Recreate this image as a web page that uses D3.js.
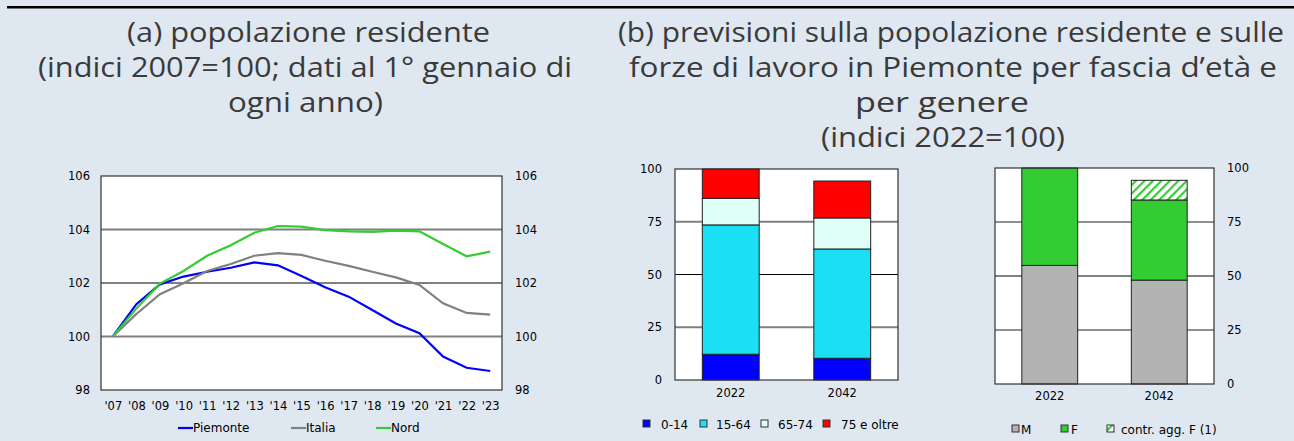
<!DOCTYPE html>
<html>
<head>
<meta charset="utf-8">
<script src="https://cdn.jsdelivr.net/npm/d3@7"></script>
<style>
  body { margin: 0; background: #dfe8f1; }
  svg { display: block; }
  .tick text { font-family: "DejaVu Sans", sans-serif; font-size: 11.5px; fill: #000; }
  .leg { font-family: "DejaVu Sans", sans-serif; font-size: 12px; fill: #000; }
  .ttl { font-family: "Open Sans", sans-serif; font-weight: 400; font-size: 27px; fill: #3a3a3a; }
</style>
</head>
<body>
<div id="chart"></div>
<script>
// ---- data ----
var years    = ["'07","'08","'09","'10","'11","'12","'13","'14","'15","'16","'17","'18","'19","'20","'21","'22","'23"];
var piemonte = [100, 101.21, 101.95, 102.24, 102.42, 102.57, 102.77, 102.66, 102.26, 101.84, 101.49, 100.99, 100.49, 100.12, 99.25, 98.83, 98.71];
var italia   = [100, 100.84, 101.58, 101.99, 102.45, 102.71, 103.02, 103.12, 103.05, 102.83, 102.64, 102.42, 102.21, 101.93, 101.24, 100.88, 100.82];
var nord     = [100, 101.05, 101.98, 102.45, 103.02, 103.41, 103.88, 104.13, 104.11, 103.98, 103.93, 103.91, 103.96, 103.93, 103.46, 103.00, 103.17];
var lineTicks = [98, 100, 102, 104, 106];

var barYears  = ["2022", "2042"];
var age0_14   = [12.2, 10.3];
var age15_64  = [61.3, 51.8];
var age65_74  = [12.6, 14.7];
var age75     = [13.9, 17.5];
var maschi    = [54.9, 48.1];
var femmine   = [45.1, 37.1];
var contrAgg  = [0, 9.1];
var barTicks  = [0, 25, 50, 75, 100];

var W = 1294, H = 441;
var svg = d3.select("#chart").append("svg")
    .attr("width", W).attr("height", H);

svg.append("rect").attr("width", W).attr("height", H).attr("fill", "#dfe8f1");

// hatch pattern
var defs = svg.append("defs");
var pat = defs.append("pattern")
    .attr("id", "hatch").attr("patternUnits", "userSpaceOnUse")
    .attr("width", 6).attr("height", 6)
    .attr("patternTransform", "rotate(45)");
pat.append("rect").attr("width", 6).attr("height", 6).attr("fill", "#ffffff");
pat.append("rect").attr("x", 0).attr("width", 2.2).attr("height", 6).attr("fill", "#33cc33");

// top rule (bottom of the page header)
svg.append("rect").attr("x", 7).attr("y", 6).attr("width", W - 7).attr("height", 2.5).attr("fill", "#000");

// ---- titles ----
var titles = [
  {t: "(a) popolazione residente", x: 127, y: 42, len: 363},
  {t: "(indici 2007=100; dati al 1° gennaio di", x: 38, y: 77, len: 534},
  {t: "ogni anno)", x: 228, y: 112, len: 155},
  {t: "(b) previsioni sulla popolazione residente e sulle", x: 618, y: 42, len: 666},
  {t: "forze di lavoro in Piemonte per fascia d\u2019età e", x: 629, y: 77, len: 648},
  {t: "per genere", x: 855, y: 112, len: 174},
  {t: "(indici 2022=100)", x: 821, y: 147, len: 244}
];
svg.selectAll("text.ttl").data(titles).enter().append("text")
    .attr("class", "ttl")
    .attr("x", d => d.x).attr("y", d => d.y)
    .attr("textLength", d => d.len)
    .attr("lengthAdjust", "spacingAndGlyphs")
    .text(d => d.t);

// ---- panel (a): line chart ----
var A = {left: 101, right: 502, top: 176, bottom: 390};
var xa = d3.scalePoint().domain(years).range([A.left, A.right]).padding(0.5);
var ya = d3.scaleLinear().domain([98, 106]).range([A.bottom, A.top]);

var ga = svg.append("g");
ga.append("rect").attr("x", A.left).attr("y", A.top)
    .attr("width", A.right - A.left).attr("height", A.bottom - A.top)
    .attr("fill", "#fff");
ga.selectAll("line.grid").data([100, 102, 104]).enter().append("line")
    .attr("x1", A.left).attr("x2", A.right)
    .attr("y1", d => ya(d)).attr("y2", d => ya(d))
    .attr("stroke", d => d == 102 ? "#000" : "#7f7f7f")
    .attr("stroke-width", d => d == 102 ? 1 : 2);

var series = [
  {name: "Piemonte", vals: piemonte, color: "#0000ff", lx: 178},
  {name: "Italia",   vals: italia,   color: "#808080", lx: 291},
  {name: "Nord",     vals: nord,     color: "#33cc33", lx: 376}
];
var line = d3.line().x((d, i) => xa(years[i])).y(d => ya(d));
ga.selectAll("path.ser").data(series).enter().append("path")
    .attr("d", d => line(d.vals))
    .attr("fill", "none").attr("stroke", d => d.color).attr("stroke-width", 2.2);

ga.append("rect").attr("x", A.left).attr("y", A.top)
    .attr("width", A.right - A.left).attr("height", A.bottom - A.top)
    .attr("fill", "none").attr("stroke", "#333").attr("stroke-width", 1.2);

ga.append("g").attr("transform", "translate(" + A.left + ",0)")
    .call(d3.axisLeft(ya).tickValues(lineTicks).tickSize(0).tickPadding(11))
    .call(g => g.select(".domain").remove());
ga.append("g").attr("transform", "translate(" + A.right + ",0)")
    .call(d3.axisRight(ya).tickValues(lineTicks).tickSize(0).tickPadding(13))
    .call(g => g.select(".domain").remove());
ga.append("g").attr("transform", "translate(0," + A.bottom + ")")
    .call(d3.axisBottom(xa).tickSize(0).tickPadding(12))
    .call(g => g.select(".domain").remove());

var la = ga.selectAll("g.lega").data(series).enter().append("g");
la.append("line").attr("x1", d => d.lx).attr("x2", d => d.lx + 15)
    .attr("y1", 428).attr("y2", 428)
    .attr("stroke", d => d.color).attr("stroke-width", 2.2);
la.append("text").attr("class", "leg").attr("x", d => d.lx + 15).attr("y", 432)
    .text(d => d.name);

// ---- helper for stacked bar panels ----
function barPanel(P, keys, cols, axisSide, pad) {
  var rows = barYears.map(function(y, i) {
    var r = {year: y};
    keys.forEach(k => r[k.name] = k.vals[i]);
    return r;
  });
  var stack = d3.stack().keys(keys.map(k => k.name))(rows);
  var x = d3.scaleBand().domain(barYears).range([P.left, P.right]).padding(0);
  var y = d3.scaleLinear().domain([0, 100]).range([P.bottom, P.top]);
  var bw = x.bandwidth() * 0.51;
  var g = svg.append("g");
  g.append("rect").attr("x", P.left).attr("y", P.top)
      .attr("width", P.right - P.left).attr("height", P.bottom - P.top).attr("fill", "#fff");
  g.selectAll("line.grid").data([25, 50, 75]).enter().append("line")
      .attr("x1", P.left).attr("x2", P.right)
      .attr("y1", d => y(d)).attr("y2", d => y(d))
      .attr("stroke", d => d == 50 ? "#000" : P.grid)
      .attr("stroke-width", d => d == 50 ? 1 : P.gridW);
  stack.forEach(function(s, si) {
    g.selectAll(null).data(s.filter(d => d[1] - d[0] > 0)).enter().append("rect")
        .attr("x", d => x(d.data.year) + (x.bandwidth() - bw) / 2)
        .attr("width", bw)
        .attr("y", d => y(d[1]))
        .attr("height", d => y(d[0]) - y(d[1]))
        .attr("fill", cols[si])
        .attr("stroke", "#222").attr("stroke-width", 1);
  });
  g.append("rect").attr("x", P.left).attr("y", P.top)
      .attr("width", P.right - P.left).attr("height", P.bottom - P.top)
      .attr("fill", "none").attr("stroke", "#333").attr("stroke-width", 1.2);
  var yax = axisSide == "left" ? d3.axisLeft(y) : d3.axisRight(y);
  g.append("g").attr("transform", "translate(" + (axisSide == "left" ? P.left : P.right) + ",0)")
      .call(yax.tickValues(barTicks).tickSize(0).tickPadding(pad))
      .call(gg => gg.select(".domain").remove());
  g.append("g").attr("transform", "translate(0," + P.bottom + ")")
      .call(d3.axisBottom(x).tickSize(0).tickPadding(P.xpad))
      .call(gg => gg.select(".domain").remove());
  // legend
  var lg = g.selectAll("g.leg").data(P.legend).enter().append("g");
  lg.append("rect").attr("x", d => d.sx).attr("y", P.ly - 4).attr("width", 7).attr("height", 7)
      .attr("fill", d => d.col).attr("stroke", "#333").attr("stroke-width", 1);
  lg.append("text").attr("class", "leg").attr("x", d => d.tx).attr("y", P.ly + 4.5).text(d => d.t);
}

barPanel({left: 675, right: 898, top: 169, bottom: 380, xpad: 9, grid: "#7f7f7f", gridW: 2, ly: 424,
          legend: [{t: "0-14", sx: 643, tx: 661, col: "#0000ff"},
                   {t: "15-64", sx: 700, tx: 716, col: "#1be0f5"},
                   {t: "65-74", sx: 761, tx: 778, col: "#e0fff8"},
                   {t: "75 e oltre", sx: 823, tx: 841, col: "#ff0000"}]},
         [{name: "0-14", vals: age0_14}, {name: "15-64", vals: age15_64},
          {name: "65-74", vals: age65_74}, {name: "75 e oltre", vals: age75}],
         ["#0000ff", "#1be0f5", "#e0fff8", "#ff0000"], "left", 13);

barPanel({left: 995, right: 1214, top: 168, bottom: 384, xpad: 8, grid: "#222", gridW: 1, ly: 429,
          legend: [{t: "M", sx: 1012, tx: 1021, col: "#b3b3b3"},
                   {t: "F", sx: 1061, tx: 1071, col: "#33cc33"},
                   {t: "contr. agg. F (1)", sx: 1107, tx: 1121, col: "url(#hatch)"}]},
         [{name: "M", vals: maschi}, {name: "F", vals: femmine}, {name: "agg", vals: contrAgg}],
         ["#b3b3b3", "#33cc33", "url(#hatch)"], "right", 13);
</script>
</body>
</html>
